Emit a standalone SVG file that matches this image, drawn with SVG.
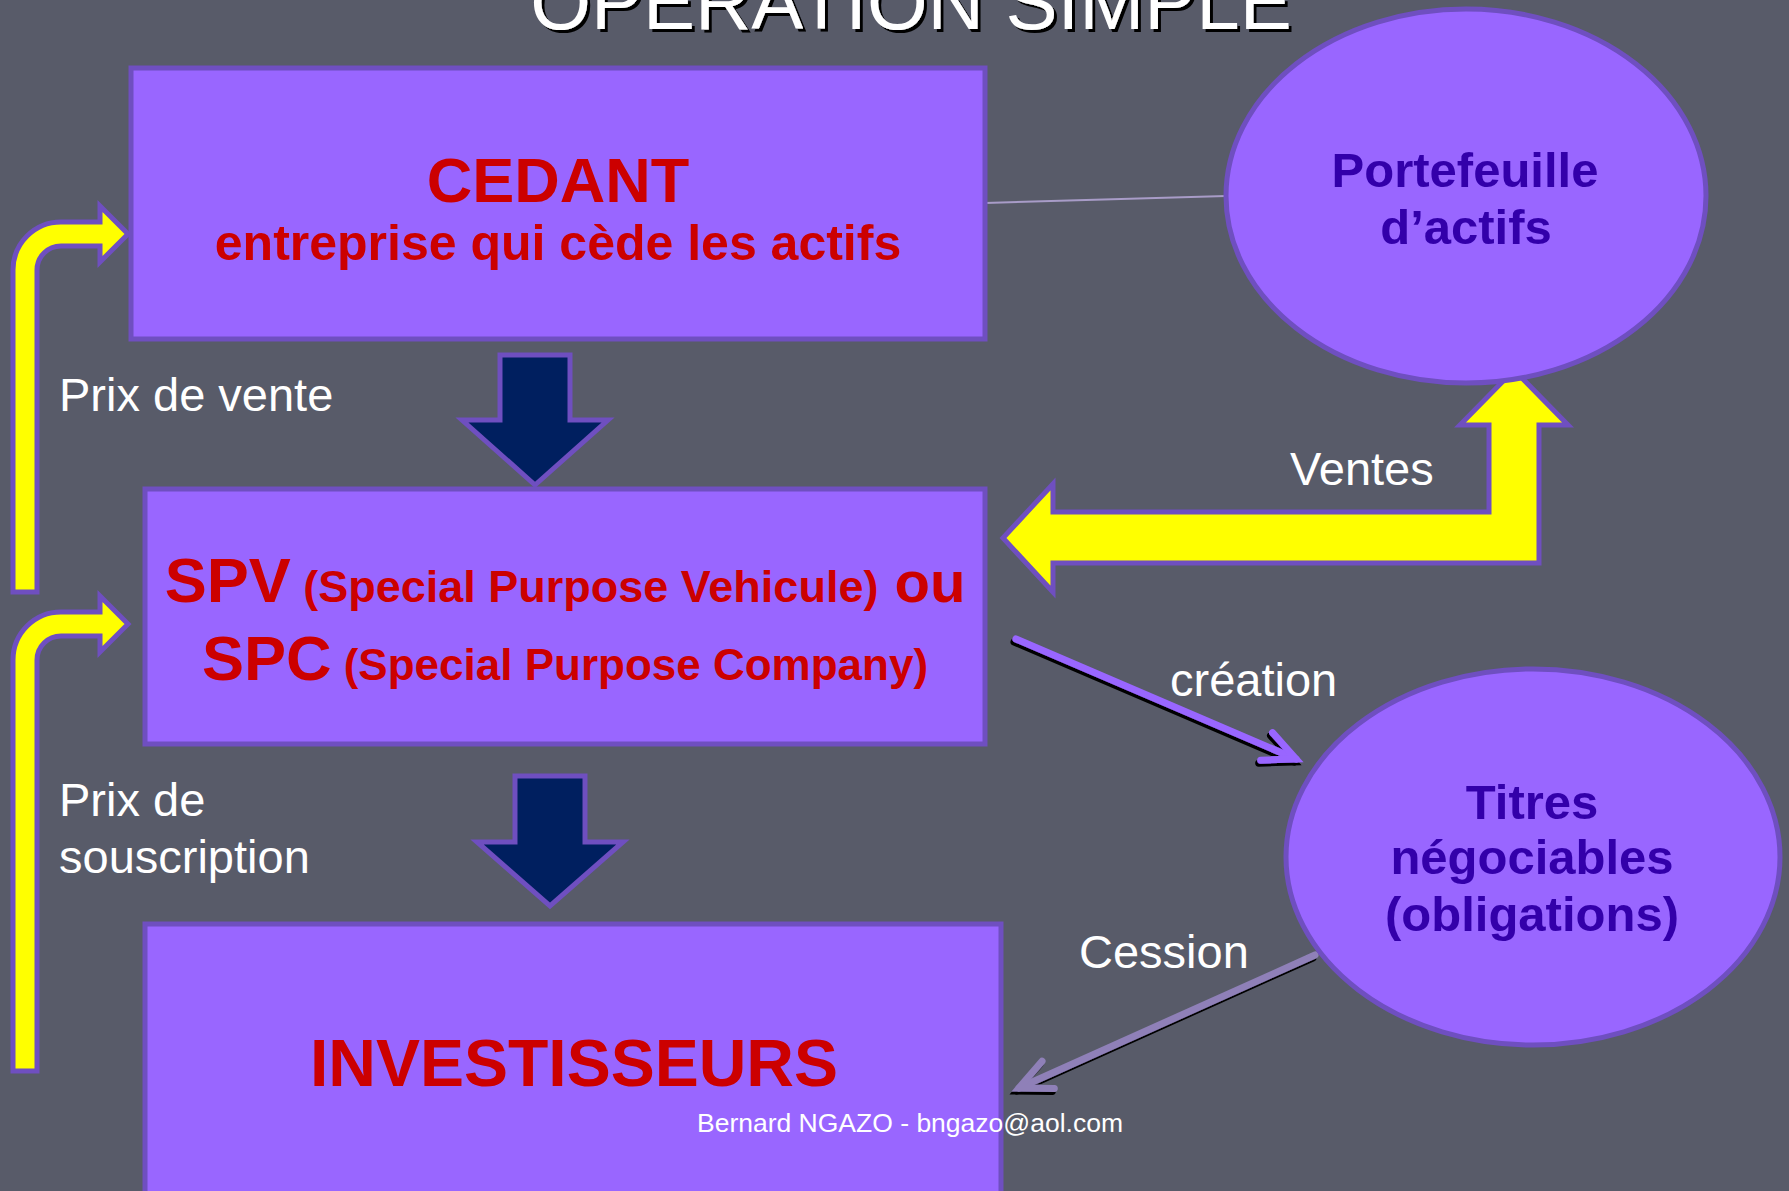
<svg xmlns="http://www.w3.org/2000/svg" width="1789" height="1191" viewBox="0 0 1789 1191">
<style>
.box{fill:#9966ff;stroke:#6f4fc0;stroke-width:5}
.ell{fill:#9966ff;stroke:#6f4fc0;stroke-width:5}
.red{font-family:"Liberation Sans",Arial,sans-serif;font-weight:bold;fill:#cc0000;text-anchor:middle}
.ind{font-family:"Liberation Sans",Arial,sans-serif;font-weight:bold;fill:#3300aa;text-anchor:middle;font-size:49px}
.lbl{font-family:"Liberation Sans",Arial,sans-serif;fill:#ffffff;font-size:47px}
.yel{fill:#ffff00;stroke:#6f4fc0;stroke-width:5;stroke-linejoin:miter}
.navy{fill:#001f5f;stroke:#6f4fc0;stroke-width:5}
.ln{fill:none;stroke-width:7;stroke-linecap:round}
</style>
<defs>
<filter id="sh" x="-20%" y="-20%" width="140%" height="140%">
<feDropShadow dx="-2" dy="3" stdDeviation="0" flood-color="#000000" flood-opacity="1"/>
</filter>
<filter id="tsh" x="-10%" y="-50%" width="120%" height="200%">
<feDropShadow dx="3" dy="3" stdDeviation="0" flood-color="#000000" flood-opacity="1"/>
</filter>
<marker id="chevP" markerUnits="userSpaceOnUse" orient="auto" refX="0" refY="0" markerWidth="80" markerHeight="80" overflow="visible">
<path d="M -32 -15 L 0 0 L -32 15" fill="none" stroke="#9966ff" stroke-width="7" stroke-linecap="round" stroke-linejoin="miter"/>
</marker>
<marker id="chevG" markerUnits="userSpaceOnUse" orient="auto" refX="0" refY="0" markerWidth="80" markerHeight="80" overflow="visible">
<path d="M -32 -15 L 0 0 L -32 15" fill="none" stroke="#8f80b8" stroke-width="7" stroke-linecap="round" stroke-linejoin="miter"/>
</marker>
</defs>
<rect x="0" y="0" width="1789" height="1191" fill="#585b69"/>
<text x="911" y="29" font-family="'Liberation Sans',Arial,sans-serif" font-size="78" fill="#ffffff" text-anchor="middle" filter="url(#tsh)">OPERATION SIMPLE</text>
<g id="connectors">
<line x1="985" y1="203" x2="1226" y2="196" stroke="#a89cc8" stroke-width="2"/>
<path id="arrow-prix-vente" class="yel" d="M 13 592 L 13 270 A 48 48 0 0 1 61 222 L 100 222 L 100 206 L 128 234 L 100 262 L 100 246 L 61 246 A 24 24 0 0 0 37 270 L 37 592 Z"/>
<path id="arrow-prix-souscription" class="yel" d="M 13 1071 L 13 660 A 48 48 0 0 1 61 612 L 100 612 L 100 596 L 128 624 L 100 652 L 100 636 L 61 636 A 24 24 0 0 0 37 660 L 37 1071 Z"/>
<path id="arrow-ventes" class="yel" d="M 1003 538 L 1053 484 L 1053 512 L 1489 512 L 1489 425 L 1460 425 L 1514 370 L 1568 425 L 1539 425 L 1539 563 L 1053 563 L 1053 592 Z"/>
<path id="arrow-cedant-spv" class="navy" d="M 500 355 L 570 355 L 570 420 L 608 420 L 535 485 L 462 420 L 500 420 Z"/>
<path id="arrow-spv-inv" class="navy" d="M 515 776 L 585 776 L 585 842 L 623 842 L 550 906 L 477 842 L 515 842 Z"/>
<g filter="url(#sh)">
<line class="ln" x1="1016" y1="639" x2="1296" y2="759" stroke="#9966ff" marker-end="url(#chevP)"/>
<line class="ln" x1="1315" y1="955" x2="1019" y2="1088" stroke="#8f80b8" marker-end="url(#chevG)"/>
</g>
</g>
<g id="cedant">
<rect class="box" x="131" y="68" width="854" height="271"/>
<text class="red" x="558" y="202" font-size="63">CEDANT</text>
<text class="red" x="558" y="260" font-size="50">entreprise qui cède les actifs</text>
</g>
<g id="spv">
<rect class="box" x="145" y="489" width="840" height="255"/>
<text class="red" x="565" y="602"><tspan font-size="63">SPV</tspan><tspan font-size="45"> (Special Purpose Vehicule)</tspan><tspan font-size="58"> ou</tspan></text>
<text class="red" x="565" y="680"><tspan font-size="63">SPC</tspan><tspan font-size="44"> (Special Purpose Company)</tspan></text>
</g>
<g id="investisseurs">
<rect class="box" x="145" y="924" width="856" height="280"/>
<text class="red" x="574" y="1086" font-size="66">INVESTISSEURS</text>
</g>
<g id="portefeuille">
<ellipse class="ell" cx="1466" cy="196" rx="240" ry="187"/>
<text class="ind" x="1465" y="187" font-size="51">Portefeuille</text>
<text class="ind" x="1466" y="244" font-size="51">d’actifs</text>
</g>
<g id="titres">
<ellipse class="ell" cx="1533" cy="857" rx="247" ry="188"/>
<text class="ind" x="1532" y="819">Titres</text>
<text class="ind" x="1532" y="874">négociables</text>
<text class="ind" x="1532" y="931">(obligations)</text>
</g>
<g id="labels">
<text class="lbl" x="59" y="411">Prix de vente</text>
<text class="lbl" x="59" y="816">Prix de</text>
<text class="lbl" x="59" y="873">souscription</text>
<text class="lbl" x="1290" y="485">Ventes</text>
<text class="lbl" x="1170" y="696">création</text>
<text class="lbl" x="1079" y="968" font-size="46">Cession</text>
</g>
<text x="910" y="1132" font-family="'Liberation Sans',Arial,sans-serif" font-size="26.5" fill="#ffffff" text-anchor="middle">Bernard NGAZO - bngazo@aol.com</text>
</svg>
